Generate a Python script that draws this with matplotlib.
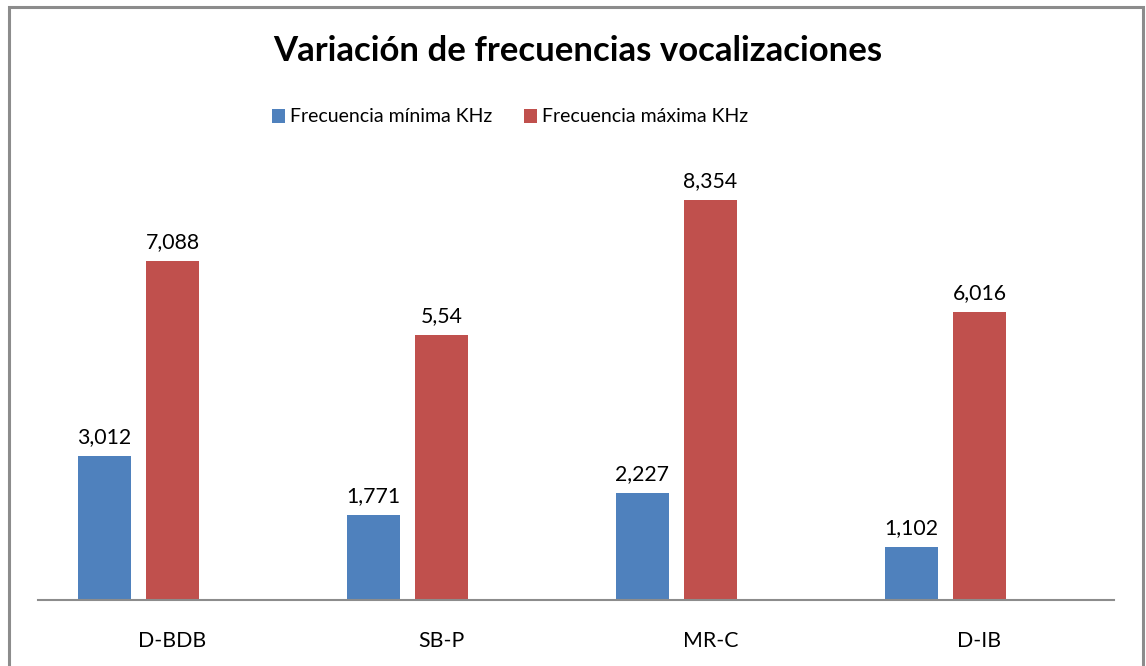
import matplotlib
matplotlib.use("Agg")
import matplotlib.pyplot as plt
from matplotlib.patches import Rectangle
import numpy as np

categories = ["D-BDB", "SB-P", "MR-C", "D-IB"]
freq_min = [3.012, 1.771, 2.227, 1.102]
freq_max = [7.088, 5.54, 8.354, 6.016]
label_min = ["3,012", "1,771", "2,227", "1,102"]
label_max = ["7,088", "5,54", "8,354", "6,016"]
series_names = ["Frecuencia mínima KHz", "Frecuencia máxima KHz"]
title = "Variación de frecuencias vocalizaciones"

blue = "#4F81BD"
red = "#C0504D"
FONT = ["Lato", "DejaVu Sans"]

W, H = 1146, 666
fig = plt.figure(figsize=(W / 100, H / 100), dpi=100)

# frame around the chart area
fig.patches.append(Rectangle((8.5 / W, -0.05), (1143 - 8.5) / W, 1.05 - 6.5 / H,
                             transform=fig.transFigure, fill=False,
                             edgecolor="#8c8c8c", linewidth=2.2))

ax_left, ax_right = 38 / W, 1114 / W
ax_bottom = (H - 600) / H
ax_top = (H - 121.4) / H
ax = fig.add_axes([ax_left, ax_bottom, ax_right - ax_left, ax_top - ax_bottom])

x = np.arange(len(categories))
bw = 0.197
step = 0.2528  # clustered layout with an empty third slot
b1 = ax.bar(x - step, freq_min, bw, color=blue, label=series_names[0])
b2 = ax.bar(x, freq_max, bw, color=red, label=series_names[1])

for bars, labels in ((b1, label_min), (b2, label_max)):
    for rect, lab in zip(bars, labels):
        ax.annotate(lab, (rect.get_x() + rect.get_width() / 2, rect.get_height()),
                    xytext=(0, 9), textcoords="offset pixels",
                    ha="center", va="bottom", fontsize=15.3, family=FONT,
                    color="black")

ax.set_xlim(-0.5, len(categories) - 0.5)
ax.set_ylim(0, 10)
ax.set_xticks(x)
ax.set_xticklabels(categories, fontsize=15.3, family=FONT)
ax.tick_params(axis="x", length=0, pad=22)
ax.set_yticks([])
for s in ("left", "right", "top"):
    ax.spines[s].set_visible(False)
ax.spines["bottom"].set_color("#8c8c8c")
ax.spines["bottom"].set_linewidth(1.5)

fig.text(578 / W, 1 - 51 / H, title, ha="center", va="center",
         fontsize=25, fontweight="bold", family=FONT)

leg = fig.legend(handles=[b1, b2], labels=series_names, loc="center",
                 bbox_to_anchor=(510 / W, 1 - 117 / H), ncol=2, frameon=False,
                 prop={"family": FONT, "size": 14}, handlelength=0.7,
                 handleheight=0.7, handletextpad=0.25, columnspacing=1.6)

fig.savefig("out.png", dpi=100)
